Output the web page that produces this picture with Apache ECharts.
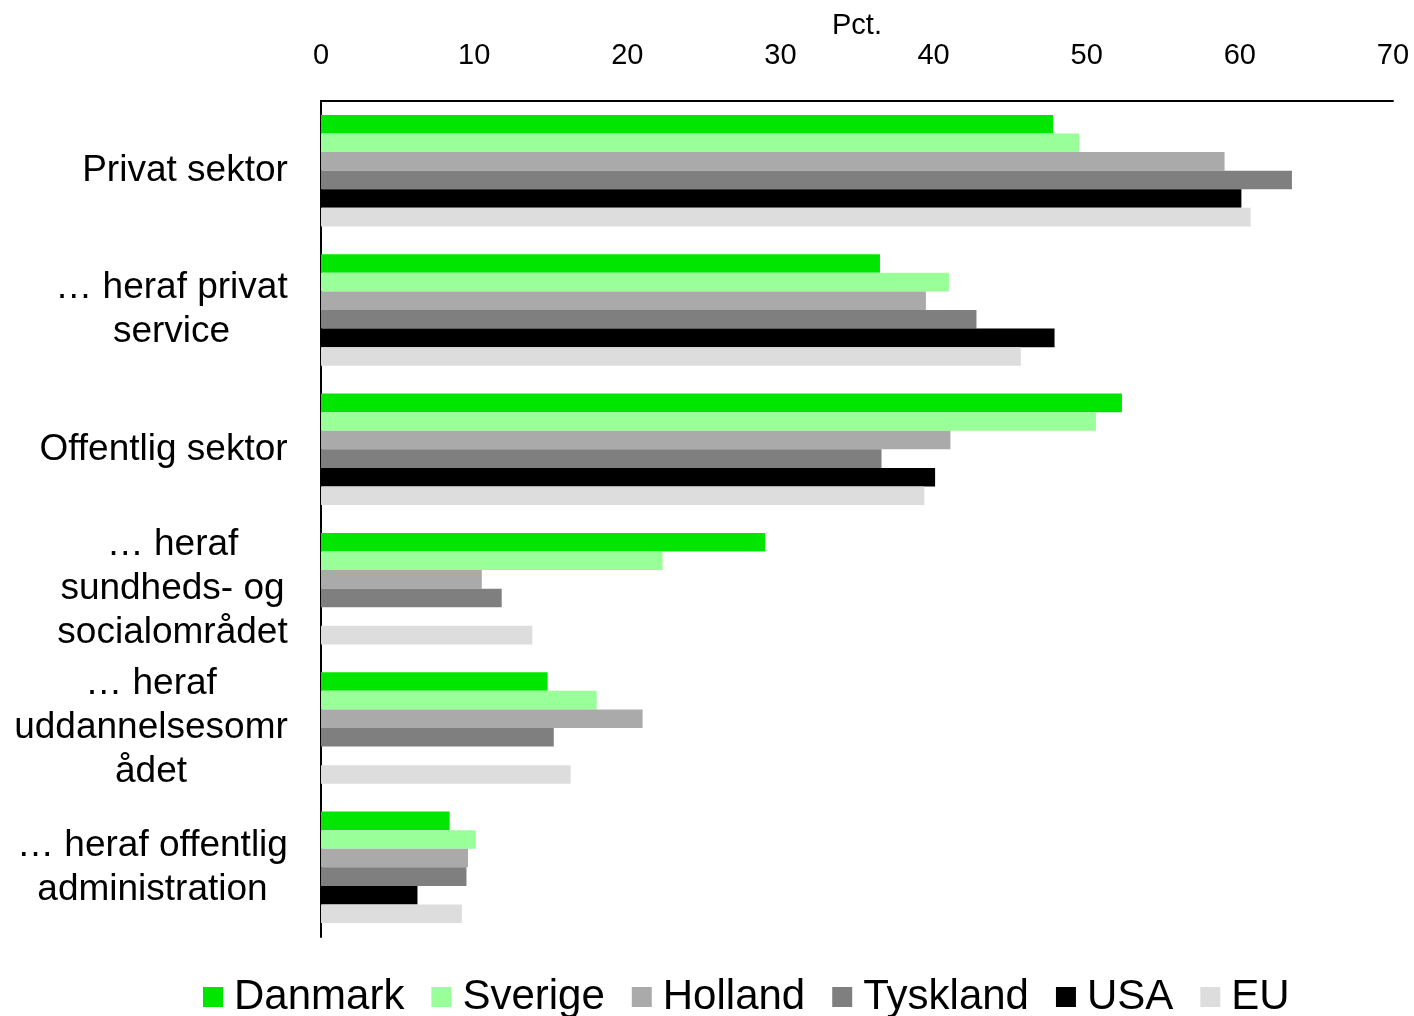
<!DOCTYPE html>
<html>
<head>
<meta charset="UTF-8">
<title>Pct.</title>
<style>
    html, body { margin: 0; padding: 0; background: #fff; }
    #chart { width: 1414px; height: 1016px; }
</style>
</head>
<body>
<div id="chart"></div>
<script src="https://cdn.jsdelivr.net/npm/echarts@6/dist/echarts.min.js"></script>
<script>
    var categories = [
        'Privat sektor',
        '… heraf privat\nservice',
        'Offentlig sektor',
        '… heraf\nsundheds- og\nsocialområdet',
        '… heraf\nuddannelsesomr\nådet',
        '… heraf offentlig\nadministration'
    ];
    var countries = ['Danmark', 'Sverige', 'Holland', 'Tyskland', 'USA', 'EU'];
    var colors = ['#00e600', '#99ff99', '#aaaaaa', '#7f7f7f', '#000000', '#dddddd'];

    var danmark  = [47.8, 36.5, 52.3, 29.0, 14.8, 8.4];
    var sverige  = [49.5, 41.0, 50.6, 22.3, 18.0, 10.1];
    var holland  = [59.0, 39.5, 41.1, 10.5, 21.0, 9.6];
    var tyskland = [63.4, 42.8, 36.6, 11.8, 15.2, 9.5];
    var usa      = [60.1, 47.9, 40.1, null, null, 6.3];
    var eu       = [60.7, 45.7, 39.4, 13.8, 16.3, 9.2];
    var values = [danmark, sverige, holland, tyskland, usa, eu];

    var ticks = [0, 10, 20, 30, 40, 50, 60, 70];

    var font = 'Liberation Sans';
    var catSize = 37;

    // lines of a label are centred on each other, block right-aligned at the axis
    var ctx = document.createElement('canvas').getContext('2d');
    ctx.font = catSize + 'px "' + font + '"';
    var rich = {};
    categories.forEach(function (c, i) {
        var w = 0;
        c.split('\n').forEach(function (l) {
            w = Math.max(w, ctx.measureText(l).width);
        });
        rich['c' + i] = {
            width: Math.ceil(w),
            align: 'center',
            fontSize: catSize,
            fontFamily: font,
            color: '#000',
            lineHeight: 44
        };
    });

    var chart = echarts.init(document.getElementById('chart'));
    chart.setOption({
        animation: false,
        textStyle: { fontFamily: font },
        grid: { left: 321, right: 21, top: 101, bottom: 79, containLabel: false, outerBoundsMode: 'none' },
        legend: {
            data: countries,
            left: 203,
            top: 976,
            padding: 0,
            itemWidth: 20,
            itemHeight: 20,
            itemGap: 27,
            icon: 'rect',
            textStyle: { fontSize: 42, color: '#000', fontFamily: font, padding: [0, 0, 0, 6] }
        },
        xAxis: {
            type: 'value',
            position: 'top',
            min: 0,
            max: 70,
            interval: 10,
            name: 'Pct.',
            nameLocation: 'middle',
            nameGap: 61,
            nameMoveOverlap: false,
            nameTextStyle: { fontSize: 29, color: '#000', fontFamily: font },
            axisLine: { show: true, lineStyle: { color: '#000', width: 2 } },
            axisTick: { show: false },
            splitLine: { show: false },
            axisLabel: {
                fontSize: 29,
                color: '#000',
                margin: 31,
                formatter: function (v) { return ticks.indexOf(v) >= 0 ? String(v) : ''; }
            }
        },
        yAxis: {
            type: 'category',
            data: categories,
            inverse: true,
            axisLine: { show: true, lineStyle: { color: '#000', width: 2 } },
            axisTick: { show: false },
            axisLabel: {
                margin: 33,
                interval: 0,
                align: 'right',
                formatter: function (v) {
                    var i = categories.indexOf(v);
                    return v.split('\n').map(function (l) {
                        return '{c' + i + '|' + l + '}';
                    }).join('\n');
                },
                rich: rich
            }
        },
        series: countries.map(function (name, i) {
            return {
                name: name,
                type: 'bar',
                data: values[i],
                barGap: '0%',
                barCategoryGap: '20%',
                itemStyle: { color: colors[i] }
            };
        })
    });
</script>
</body>
</html>
